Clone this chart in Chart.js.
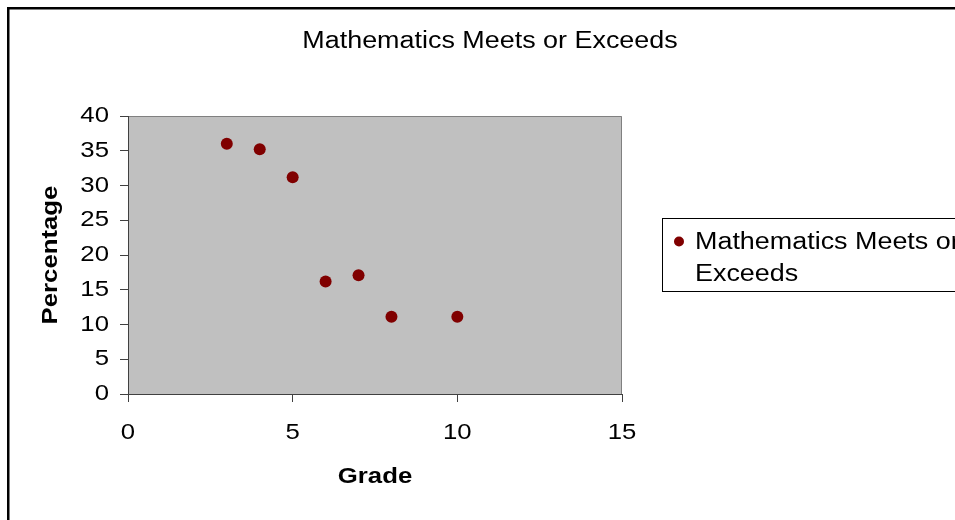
<!DOCTYPE html>
<html>
<head>
<meta charset="utf-8">
<title>Mathematics Meets or Exceeds</title>
<script src="https://cdn.jsdelivr.net/npm/chart.js"></script>
<style>
  html, body { margin: 0; padding: 0; background: #fff; }
  canvas { display: block; }
</style>
</head>
<body>
<canvas id="chart" width="955" height="520"></canvas>
<script>
const chartTitle = 'Mathematics Meets or Exceeds';
const seriesName = 'Mathematics Meets or Exceeds';
const legendLines = ['Mathematics Meets or', 'Exceeds'];
const grades = [3, 4, 5, 6, 7, 8, 10];
const percentages = [36, 35.2, 31.2, 16.2, 17.1, 11.1, 11.1];
const xTicks = [0, 5, 10, 15];
const yTicks = [0, 5, 10, 15, 20, 25, 30, 35, 40];

const FONT = '"Liberation Sans", Arial, sans-serif';
// the original text is drawn a bit wider than plain Arial
const TEXT_STRETCH = 1.17;
const AXIS_DARK = '#404040';

function stretchText(ctx) {
  if (ctx._plainFillText) return;
  const plain = ctx.fillText.bind(ctx);
  ctx._plainFillText = plain;
  ctx.fillText = function (text, x, y) {
    this.save();
    this.translate(x, y);
    this.scale(TEXT_STRETCH, 1);
    plain(text, 0, 0);
    this.restore();
  };
}

const excelFrame = {
  id: 'excelFrame',
  beforeDraw(chart) {
    const ctx = chart.ctx;
    stretchText(ctx);
    const { left, top, right, bottom } = chart.chartArea;

    ctx.save();
    ctx.fillStyle = '#fff';
    ctx.fillRect(0, 0, chart.width, chart.height);

    // outer chart border (runs off the right and bottom edges)
    ctx.strokeStyle = '#000';
    ctx.lineWidth = 2.5;
    ctx.strokeRect(8.25, 8.25, chart.width + 20, chart.height + 20);

    // plot area
    ctx.fillStyle = '#c0c0c0';
    ctx.fillRect(left, top, right - left, bottom - top);
    ctx.strokeStyle = '#808080';
    ctx.lineWidth = 1;
    ctx.beginPath();
    ctx.moveTo(left, top + 0.5);
    ctx.lineTo(right - 0.5, top + 0.5);
    ctx.lineTo(right - 0.5, bottom);
    ctx.stroke();
    ctx.restore();
  },
  afterDraw(chart) {
    const ctx = chart.ctx;
    const ds = chart.data.datasets[0];

    ctx.save();
    ctx.fillStyle = '#000';
    ctx.font = '23px ' + FONT;
    ctx.textBaseline = 'alphabetic';

    // title
    ctx.textAlign = 'center';
    ctx.fillText(chartTitle, 490, 48);

    // legend box
    ctx.strokeStyle = '#000';
    ctx.lineWidth = 1;
    ctx.strokeRect(662.5, 218.5, 320, 73);
    ctx.fillStyle = ds.pointBackgroundColor;
    ctx.beginPath();
    ctx.arc(679, 241.5, 5, 0, Math.PI * 2);
    ctx.fill();

    ctx.fillStyle = '#000';
    ctx.textAlign = 'left';
    legendLines.forEach((line, i) => {
      ctx.fillText(line, 695, 248.5 + i * 32);
    });
    ctx.restore();
  }
};

new Chart(document.getElementById('chart'), {
  type: 'scatter',
  data: {
    datasets: [{
      label: seriesName,
      data: grades.map((g, i) => ({ x: g, y: percentages[i] })),
      pointRadius: 6,
      pointHoverRadius: 6,
      pointBackgroundColor: '#800000',
      pointBorderColor: '#800000',
      pointBorderWidth: 0,
      showLine: false
    }]
  },
  options: {
    responsive: false,
    animation: false,
    events: [],
    layout: {
      padding: { top: 116, right: 333, bottom: 0, left: 0 }
    },
    plugins: {
      legend: { display: false },
      title: { display: false },
      tooltip: { enabled: false }
    },
    scales: {
      x: {
        type: 'linear',
        min: xTicks[0],
        max: xTicks[xTicks.length - 1],
        afterBuildTicks: (scale) => {
          scale.ticks = xTicks.map(v => ({ value: v }));
        },
        afterFit: (scale) => {
          scale.height = 126;
        },
        ticks: {
          color: '#000',
          padding: 18,
          maxRotation: 0,
          font: { family: FONT, size: 22 }
        },
        grid: {
          drawOnChartArea: false,
          drawTicks: true,
          tickLength: 8,
          tickColor: AXIS_DARK
        },
        border: { color: AXIS_DARK, width: 1 },
        title: {
          display: true,
          text: 'Grade',
          color: '#000',
          padding: { top: 0, bottom: 30 },
          font: { family: FONT, size: 22, weight: 'bold' }
        }
      },
      y: {
        type: 'linear',
        min: yTicks[0],
        max: yTicks[yTicks.length - 1],
        afterBuildTicks: (scale) => {
          scale.ticks = yTicks.map(v => ({ value: v }));
        },
        afterFit: (scale) => {
          scale.width = 128;
        },
        ticks: {
          color: '#000',
          padding: 11,
          font: { family: FONT, size: 22 }
        },
        grid: {
          drawOnChartArea: false,
          drawTicks: true,
          tickLength: 8,
          tickColor: AXIS_DARK
        },
        border: { color: AXIS_DARK, width: 1 },
        title: {
          display: true,
          text: 'Percentage',
          color: '#000',
          padding: { top: 38, bottom: 0 },
          font: { family: FONT, size: 22, weight: 'bold' }
        }
      }
    }
  },
  plugins: [excelFrame]
});
</script>
</body>
</html>
